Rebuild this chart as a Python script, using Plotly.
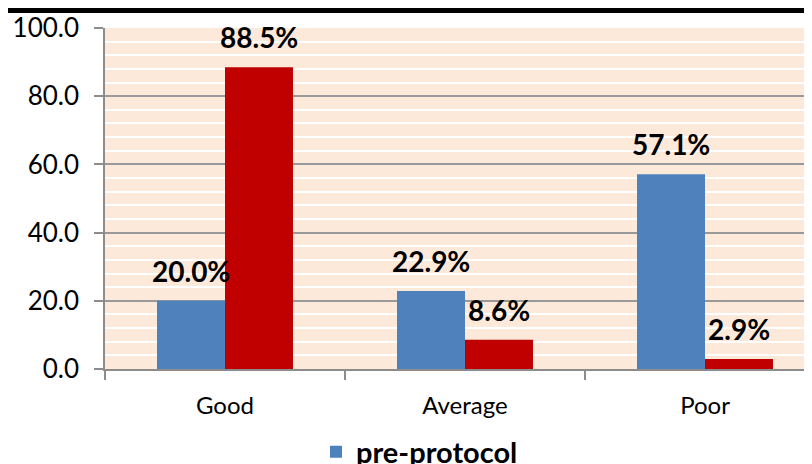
import plotly.graph_objects as go

categories = ["Good", "Average", "Poor"]
pre_protocol = [20.0, 22.9, 57.1]
post_protocol = [88.5, 8.6, 2.9]
y_ticks = [0, 20, 40, 60, 80, 100]

FONT = "Lato"
BLUE = "#4F81BD"
RED = "#C00000"
GRAY = "#8C8C8C"

# page has an 8px body margin; plot area should sit at x 105.., y 28..369 in the window
L, T, B = 97, 20, 103
PH = 464 - T - B          # 341
PW = 812 - L              # 715

fig = go.Figure()
fig.add_trace(go.Bar(x=categories, y=pre_protocol, name="pre-protocol",
                     marker=dict(color=BLUE, line=dict(width=0))))
fig.add_trace(go.Bar(x=categories, y=post_protocol, name="post-protocol",
                     marker=dict(color=RED, line=dict(width=0)), showlegend=False))

# data labels above bars
for vals, shift in ((pre_protocol, -34), (post_protocol, 34)):
    for c, v in zip(categories, vals):
        fig.add_annotation(x=c, y=v, text=f"{v:.1f}%", showarrow=False,
                           xshift=shift, yshift=30, yanchor="middle",
                           font=dict(family=FONT, size=28, color="black", weight="bold"))

# black bar at top of picture
fig.add_shape(type="rect", xref="paper", yref="paper", x0=-0.3, x1=1.1,
              y0=1 + (T - 5) / PH, y1=1.3,
              fillcolor="black", line=dict(width=0), layer="above")

fig.update_layout(
    width=812, height=464,
    margin=dict(l=L, r=0, t=T, b=B, pad=0, autoexpand=False),
    paper_bgcolor="white",
    plot_bgcolor="#FCE9DA",
    barmode="group",
    bargap=0.4333,
    bargroupgap=0,
    showlegend=True,
    legend=dict(orientation="h", x=(308 - L) / PW, xanchor="left",
                y=-(444 - (T + PH)) / PH, yanchor="middle",
                font=dict(family=FONT, size=29, color="black", weight="bold"),
                bgcolor="rgba(0,0,0,0)"),
    font=dict(family=FONT, color="black"),
)
fig.update_xaxes(
    range=[-0.5, -0.5 + PW / 240], tickson="boundaries", ticks="outside", ticklen=9,
    tickcolor=GRAY, tickwidth=1.5, showline=True, linecolor=GRAY, linewidth=1.5,
    showgrid=False, automargin=False, ticklabelstandoff=14,
    tickfont=dict(family=FONT, size=24, color="black"),
)
fig.update_yaxes(
    range=[0, 100], tickvals=y_ticks, tickformat=".1f", ticks="outside", ticklen=9,
    tickcolor=GRAY, tickwidth=1.5, showline=True, linecolor=GRAY, linewidth=1.5,
    showgrid=True, gridcolor="#999999", gridwidth=1.5, zeroline=False, automargin=False,
    ticklabelstandoff=10,
    tickfont=dict(family=FONT, size=26, color="black"),
    minor=dict(dtick=4, showgrid=True, gridcolor="white", gridwidth=1.5, ticks=""),
)

fig.write_html("out.html")
